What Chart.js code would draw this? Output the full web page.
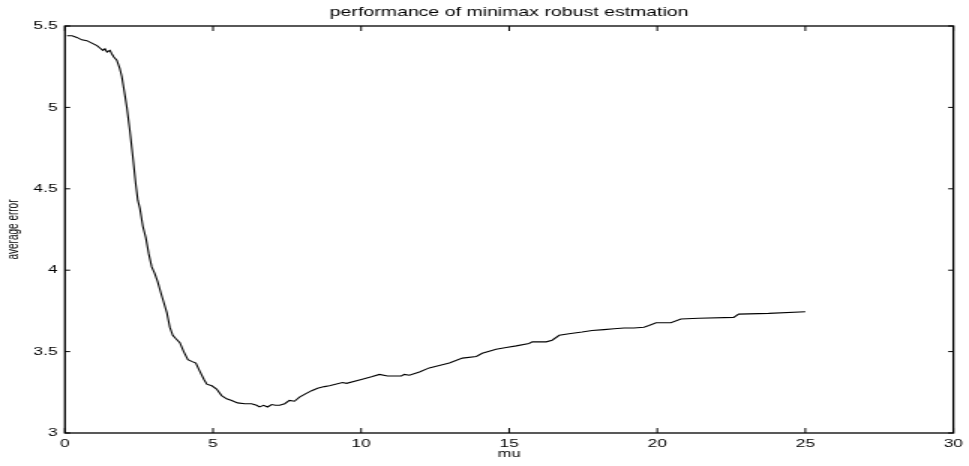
<!DOCTYPE html>
<html>
<head>
<meta charset="utf-8">
<title>performance of minimax robust estmation</title>
<script src="https://cdn.jsdelivr.net/npm/chart.js@4.4.1/dist/chart.umd.min.js"></script>
<style>
  html, body { margin: 0; padding: 0; background: #fff; }
  #chart { display: block; }
</style>
</head>
<body>
<!-- the figure is drawn narrow and shown 1.5x wider, like the stretched original -->
<canvas id="chart" width="646" height="466" style="width:969px;height:466px"></canvas>
<script>
const muValues = [
  0.07, 0.24, 0.40, 0.57, 0.74, 0.91, 1.08, 1.18, 1.28, 1.35,
  1.42, 1.52, 1.58, 1.65, 1.75, 1.85, 1.92, 2.02, 2.09, 2.19,
  2.29, 2.39, 2.46, 2.53, 2.63, 2.73, 2.83, 2.93, 3.03, 3.13,
  3.24, 3.34, 3.44, 3.54, 3.64, 3.74, 3.88, 4.01, 4.15, 4.28,
  4.42, 4.55, 4.69, 4.79, 4.96, 5.12, 5.29, 5.46, 5.63, 5.83,
  6.07, 6.30, 6.47, 6.57, 6.71, 6.84, 6.98, 7.11, 7.25, 7.42,
  7.58, 7.75, 7.92, 8.12, 8.33, 8.53, 8.76, 8.93, 9.37, 9.51,
  10.04, 10.35, 10.62, 10.89, 11.16, 11.36, 11.46, 11.63, 11.97, 12.30,
  12.64, 12.98, 13.42, 13.89, 14.09, 14.56, 14.90, 15.24, 15.67, 15.78,
  16.25, 16.45, 16.69, 17.02, 17.46, 17.80, 18.20, 18.54, 18.88, 19.21,
  19.55, 19.72, 19.96, 20.46, 20.80, 21.40, 22.58, 22.75, 23.76, 25.00
];
const errorValues = [
  5.44, 5.44, 5.43, 5.415, 5.41, 5.395, 5.38, 5.365, 5.35, 5.36,
  5.34, 5.35, 5.33, 5.31, 5.29, 5.24, 5.19, 5.08, 5.00, 4.86,
  4.70, 4.53, 4.43, 4.38, 4.27, 4.20, 4.10, 4.02, 3.98, 3.93,
  3.86, 3.80, 3.74, 3.65, 3.60, 3.58, 3.555, 3.50, 3.45, 3.44,
  3.43, 3.38, 3.33, 3.30, 3.29, 3.27, 3.23, 3.21, 3.20, 3.185,
  3.18, 3.18, 3.17, 3.16, 3.17, 3.16, 3.175, 3.17, 3.17, 3.18,
  3.20, 3.195, 3.22, 3.24, 3.26, 3.275, 3.285, 3.29, 3.31, 3.305,
  3.33, 3.345, 3.36, 3.35, 3.35, 3.35, 3.36, 3.355, 3.375, 3.40,
  3.415, 3.43, 3.46, 3.47, 3.49, 3.515, 3.525, 3.535, 3.55, 3.56,
  3.56, 3.57, 3.60, 3.61, 3.62, 3.63, 3.635, 3.64, 3.645, 3.645,
  3.65, 3.66, 3.677, 3.677, 3.70, 3.705, 3.71, 3.73, 3.735, 3.745
];
const xTicks = [0, 5, 10, 15, 20, 25, 30];
const yTicks = [3, 3.5, 4, 4.5, 5, 5.5];

const points = muValues.map((mu, i) => ({ x: mu, y: errorValues[i] }));

Chart.defaults.font.family = "'Liberation Sans', Arial, Helvetica, sans-serif";
Chart.defaults.color = "#000";

// matlab style box with ticks pointing inwards
const boxAndTicks = {
  id: "boxAndTicks",
  afterDraw(chart) {
    const { ctx, chartArea: a, scales } = chart;
    ctx.save();
    ctx.strokeStyle = "#000";
    ctx.lineWidth = 1.3;
    ctx.strokeRect(a.left, a.top, a.right - a.left, a.bottom - a.top);
    ctx.lineWidth = 1;
    ctx.beginPath();
    scales.x.ticks.forEach((t) => {
      const px = scales.x.getPixelForValue(t.value);
      ctx.moveTo(px, a.bottom);
      ctx.lineTo(px, a.bottom - 5);
      ctx.moveTo(px, a.top);
      ctx.lineTo(px, a.top + 5);
    });
    scales.y.ticks.forEach((t) => {
      const py = scales.y.getPixelForValue(t.value);
      ctx.moveTo(a.left, py);
      ctx.lineTo(a.left + 3.5, py);
      ctx.moveTo(a.right, py);
      ctx.lineTo(a.right - 3.5, py);
    });
    ctx.stroke();
    ctx.restore();
  },
};

new Chart(document.getElementById("chart"), {
  type: "line",
  data: {
    datasets: [
      {
        data: points,
        borderColor: "#000",
        borderWidth: 1.1,
        pointRadius: 0,
        tension: 0,
        fill: false,
      },
    ],
  },
  options: {
    responsive: false,
    devicePixelRatio: 1,
    animation: false,
    layout: { padding: { left: 0, right: 9.3, top: 0, bottom: 0 } },
    plugins: {
      legend: { display: false },
      tooltip: { enabled: false },
      title: {
        display: true,
        text: "performance of minimax robust estmation",
        fullSize: false,
        font: { size: 13, weight: "normal" },
        padding: { top: 5, bottom: 5.4 },
      },
    },
    scales: {
      x: {
        type: "linear",
        min: 0,
        max: 30,
        afterBuildTicks: (s) => { s.ticks = xTicks.map((v) => ({ value: v })); },
        afterFit: (s) => { s.height = 33; },
        grid: { display: false, drawTicks: false },
        border: { display: false },
        ticks: { font: { size: 11.5 }, padding: 4, maxRotation: 0, callback: (v) => String(v) },
        title: { display: true, text: "mu", font: { size: 11 }, padding: { top: 0, bottom: 5 } },
      },
      y: {
        type: "linear",
        min: 3,
        max: 5.5,
        afterBuildTicks: (s) => { s.ticks = yTicks.map((v) => ({ value: v })); },
        afterFit: (s) => { s.width = 43.3; },
        grid: { display: false, drawTicks: false },
        border: { display: false },
        ticks: { font: { size: 11.5 }, padding: 5, callback: (v) => String(v) },
        title: { display: true, text: "average error", font: { size: 10 }, padding: { top: 3, bottom: 0 } },
      },
    },
  },
  plugins: [boxAndTicks],
});
</script>
</body>
</html>
